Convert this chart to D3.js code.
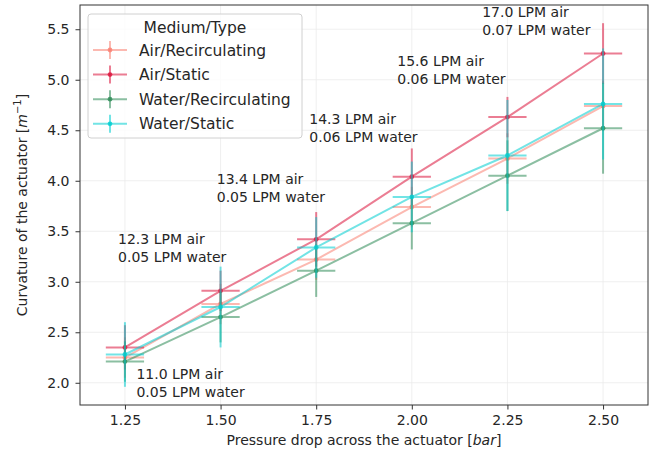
<!DOCTYPE html>
<html>
<head>
<meta charset="utf-8">
<script src="https://cdn.jsdelivr.net/npm/d3@7"></script>
<style>
  body { margin: 0; background: #fff; }
  svg text { font-family: "DejaVu Sans", sans-serif; fill: #262626; }
</style>
</head>
<body>
<div id="chart"></div>
<script>
// data
var pressures = [1.25, 1.50, 1.75, 2.00, 2.25, 2.50];
var seriesNames = ["Air/Recirculating", "Air/Static", "Water/Recirculating", "Water/Static"];
var airRecirc = [2.25, 2.78, 3.22, 3.74, 4.22, 4.74];
var airRecircErr = [0.20, 0.20, 0.20, 0.20, 0.25, 0.25];
var airStatic = [2.35, 2.91, 3.42, 4.04, 4.63, 5.26];
var airStaticErr = [0.22, 0.20, 0.27, 0.28, 0.20, 0.30];
var waterRecirc = [2.21, 2.65, 3.11, 3.58, 4.05, 4.52];
var waterRecircErr = [0.20, 0.25, 0.26, 0.26, 0.35, 0.45];
var waterStatic = [2.28, 2.75, 3.34, 3.84, 4.25, 4.76];
var waterStaticErr = [0.32, 0.40, 0.30, 0.35, 0.55, 0.55];
var xErr = 0.05;
var flowAir = ["11.0 LPM air", "12.3 LPM air", "13.4 LPM air", "14.3 LPM air", "15.6 LPM air", "17.0 LPM air"];
var flowWater = ["0.05 LPM water", "0.05 LPM water", "0.05 LPM water", "0.06 LPM water", "0.06 LPM water", "0.07 LPM water"];
// annotation anchors in data units
var noteX = [1.28, 1.232, 1.49, 1.732, 1.962, 2.184];
var noteY = [2.04, 3.37, 3.97, 4.56, 5.14, 5.62];
var yTicks = [2.0, 2.5, 3.0, 3.5, 4.0, 4.5, 5.0, 5.5];

var colors = ["#fa8072", "#dc143c", "#2e8b57", "#00ced1"];

function main(){
  var width = 651, height = 459;
  var mLeft = 80, mRight = 648, mTop = 5, mBottom = 405;

  var series = [airRecirc, airStatic, waterRecirc, waterStatic];
  var errs = [airRecircErr, airStaticErr, waterRecircErr, waterStaticErr];

  var svg = d3.select("#chart").append("svg")
    .attr("width", width)
    .attr("height", height);

  // matplotlib style 5% margins
  var xmin = d3.min(pressures) - xErr, xmax = d3.max(pressures) + xErr;
  var ylo = [], yhi = [];
  series.forEach(function(s, i){
    s.forEach(function(v, j){ ylo.push(v - errs[i][j]); yhi.push(v + errs[i][j]); });
  });
  var ymin = d3.min(ylo), ymax = d3.max(yhi);
  var xpad = (xmax - xmin) * 0.05, ypad = (ymax - ymin) * 0.05;

  var x = d3.scaleLinear().domain([xmin - xpad, xmax + xpad]).range([mLeft, mRight]);
  var y = d3.scaleLinear().domain([ymin - ypad, ymax + ypad]).range([mBottom, mTop]);

  // grid
  svg.append("g").selectAll("line").data(pressures).enter().append("line")
    .attr("x1", d => x(d)).attr("x2", d => x(d))
    .attr("y1", mTop).attr("y2", mBottom)
    .attr("stroke", "#ebebeb").attr("stroke-width", 0.8);
  svg.append("g").selectAll("line").data(yTicks).enter().append("line")
    .attr("x1", mLeft).attr("x2", mRight)
    .attr("y1", d => y(d)).attr("y2", d => y(d))
    .attr("stroke", "#ebebeb").attr("stroke-width", 0.8);

  // axes
  var xAxis = svg.append("g").attr("transform", "translate(0," + mBottom + ")")
    .call(d3.axisBottom(x).tickValues(pressures).tickFormat(d3.format(".2f")).tickSize(4.5).tickPadding(6));
  var yAxis = svg.append("g").attr("transform", "translate(" + mLeft + ",0)")
    .call(d3.axisLeft(y).tickValues(yTicks).tickFormat(d3.format(".1f")).tickSize(4.5).tickPadding(6));
  [xAxis, yAxis].forEach(function(a){
    a.select(".domain").remove();
    a.selectAll("line").attr("stroke", "#333");
    a.selectAll("text").style("font-size", "14px").style("font-family", "DejaVu Sans").attr("fill", "#262626");
  });

  // series
  var line = d3.line().x((d, i) => x(pressures[i])).y(d => y(d));
  series.forEach(function(s, i){
    var g = svg.append("g").attr("opacity", 0.55);
    g.append("path").datum(s).attr("d", line)
      .attr("fill", "none").attr("stroke", colors[i]).attr("stroke-width", 2);
    g.selectAll(".ey").data(s).enter().append("line")
      .attr("x1", (d, j) => x(pressures[j])).attr("x2", (d, j) => x(pressures[j]))
      .attr("y1", (d, j) => y(d - errs[i][j])).attr("y2", (d, j) => y(d + errs[i][j]))
      .attr("stroke", colors[i]).attr("stroke-width", 2);
    g.selectAll(".ex").data(s).enter().append("line")
      .attr("x1", (d, j) => x(pressures[j] - xErr)).attr("x2", (d, j) => x(pressures[j] + xErr))
      .attr("y1", d => y(d)).attr("y2", d => y(d))
      .attr("stroke", colors[i]).attr("stroke-width", 2);
    svg.append("g").selectAll("circle").data(s).enter().append("circle")
      .attr("cx", (d, j) => x(pressures[j])).attr("cy", d => y(d))
      .attr("r", 2.4).attr("fill", colors[i]).attr("opacity", 0.8);
  });

  // frame
  svg.append("rect").attr("x", mLeft).attr("y", mTop)
    .attr("width", mRight - mLeft).attr("height", mBottom - mTop)
    .attr("fill", "none").attr("stroke", "#333").attr("stroke-width", 1);

  // annotations
  flowAir.forEach(function(t, i){
    var tx = svg.append("text").attr("x", x(noteX[i])).attr("y", y(noteY[i]))
      .style("font-size", "14px");
    tx.append("tspan").attr("x", x(noteX[i])).text(t);
    tx.append("tspan").attr("x", x(noteX[i])).attr("dy", 18).text(flowWater[i]);
  });

  // axis labels
  svg.append("text").attr("x", (mLeft + mRight) / 2).attr("y", 445)
    .attr("text-anchor", "middle").style("font-size", "14px")
    .html('Pressure drop across the actuator [<tspan font-style="italic">bar</tspan>]');
  svg.append("text").attr("transform", "translate(27," + ((mTop + mBottom) / 2) + ") rotate(-90)")
    .attr("text-anchor", "middle").style("font-size", "14px")
    .html('Curvature of the actuator [<tspan font-style="italic">m</tspan><tspan dy="-6" font-size="10px">\u22121</tspan><tspan dy="6">]</tspan>');

  // legend
  var lg = svg.append("g").attr("transform", "translate(88,14)");
  lg.append("rect").attr("width", 214).attr("height", 124).attr("rx", 3)
    .attr("fill", "#fff").attr("fill-opacity", 0.8).attr("stroke", "#d0d0d0");
  lg.append("text").attr("x", 107).attr("y", 19).attr("text-anchor", "middle")
    .style("font-size", "15.5px").text("Medium/Type");
  seriesNames.forEach(function(n, i){
    var cy = 36 + i * 24.6;
    var item = lg.append("g");
    item.append("line").attr("x1", 5).attr("x2", 39).attr("y1", cy).attr("y2", cy)
      .attr("stroke", colors[i]).attr("stroke-width", 2).attr("opacity", 0.55);
    item.append("line").attr("x1", 22).attr("x2", 22).attr("y1", cy - 9).attr("y2", cy + 9)
      .attr("stroke", colors[i]).attr("stroke-width", 2).attr("opacity", 0.55);
    item.append("circle").attr("cx", 22).attr("cy", cy).attr("r", 2.4)
      .attr("fill", colors[i]).attr("opacity", 0.8);
    item.append("text").attr("x", 51).attr("y", cy + 5.5).style("font-size", "15.5px").text(n);
  });
}

main();
</script>
</body>
</html>
